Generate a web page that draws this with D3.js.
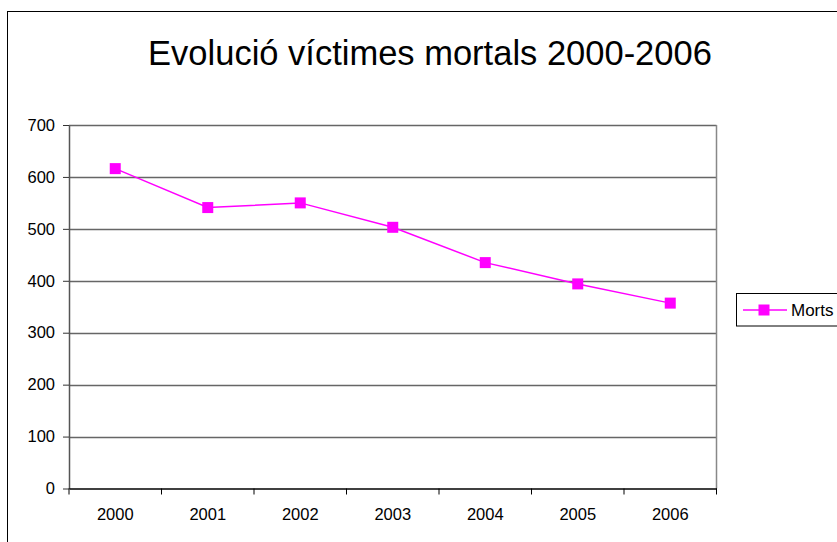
<!DOCTYPE html>
<html>
<head>
<meta charset="utf-8">
<script src="https://cdn.jsdelivr.net/npm/d3@7"></script>
<style>
html,body{margin:0;padding:0;background:#fff;}
svg{display:block;}
text{font-family:"Liberation Sans",Arial,sans-serif;fill:#000;}
</style>
</head>
<body>
<svg id="chart" width="837" height="542"></svg>
<script>
const title = "Evolució víctimes mortals 2000-2006";
const years = ["2000","2001","2002","2003","2004","2005","2006"];
const morts = [616, 541, 550, 503, 435, 394, 357];
const yTicks = [0,100,200,300,400,500,600,700];
const seriesName = "Morts";

const svg = d3.select("#chart");
const W = 837, H = 542;
const plot = {left:69, top:125, right:716.5, bottom:488.5};

// outer chart border
svg.append("rect").attr("x",7.5).attr("y",11.5).attr("width",W+20).attr("height",H+20)
  .attr("fill","#fff").attr("stroke","#000").attr("stroke-width",1);

svg.append("text").attr("x",430).attr("y",65).attr("text-anchor","middle")
  .attr("font-size",34.5).text(title);

const x = d3.scaleBand().domain(years).range([plot.left, plot.right]).padding(0);
const y = d3.scaleLinear().domain([0,700]).range([plot.bottom, plot.top]);

// gridlines
svg.append("g").selectAll("line").data(yTicks.filter(d=>d>0)).join("line")
  .attr("x1",plot.left).attr("x2",plot.right)
  .attr("y1",d=>Math.round(y(d))+0.5).attr("y2",d=>Math.round(y(d))+0.5)
  .attr("stroke","#666").attr("stroke-width",1.3);

// right border of plot area
svg.append("line").attr("x1",plot.right).attr("x2",plot.right)
  .attr("y1",plot.top).attr("y2",plot.bottom).attr("stroke","#888").attr("stroke-width",1.5);

// y axis
const yAxis = d3.axisLeft(y).tickValues(yTicks).tickSize(6).tickSizeOuter(0).tickPadding(8);
const gy = svg.append("g").attr("transform",`translate(${plot.left},0)`).call(yAxis);
gy.select(".domain").attr("stroke","#555").attr("stroke-width",1.5);
gy.selectAll(".tick line").attr("stroke","#333");
gy.selectAll(".tick text").attr("font-size",16.5).attr("font-family","Liberation Sans, Arial, sans-serif").attr("fill","#000");

// x axis
const xAxis = d3.axisBottom(x).tickSize(0).tickSizeOuter(0).tickPadding(20);
const gx = svg.append("g").attr("transform",`translate(0,${plot.bottom})`).call(xAxis);
gx.select(".domain").attr("stroke","#000").attr("stroke-width",1.3);
gx.selectAll(".tick text").attr("font-size",16.5).attr("font-family","Liberation Sans, Arial, sans-serif").attr("fill","#000");
// category boundary ticks
const bounds = years.map(d=>x(d)).concat([x(years[years.length-1])+x.bandwidth()]);
gx.append("g").selectAll("line").data(bounds).join("line")
  .attr("x1",d=>d).attr("x2",d=>d).attr("y1",0).attr("y2",6)
  .attr("stroke","#000").attr("stroke-width",1);

// series line
const line = d3.line().x((d,i)=>x(years[i])+x.bandwidth()/2).y(d=>y(d));
svg.append("path").datum(morts).attr("d",line).attr("fill","none")
  .attr("stroke","#ff00ff").attr("stroke-width",1.5);
const ms = 11;
svg.append("g").selectAll("rect").data(morts).join("rect")
  .attr("x",(d,i)=>x(years[i])+x.bandwidth()/2-ms/2)
  .attr("y",d=>y(d)-ms/2).attr("width",ms).attr("height",ms)
  .attr("fill","#ff00ff");

// legend
const lg = svg.append("g");
lg.append("rect").attr("x",736.5).attr("y",293.5).attr("width",120).attr("height",32.5)
  .attr("fill","#fff").attr("stroke","#000").attr("stroke-width",1);
lg.append("line").attr("x1",743).attr("x2",787).attr("y1",310).attr("y2",310)
  .attr("stroke","#ff00ff").attr("stroke-width",1.5);
lg.append("rect").attr("x",764-ms/2).attr("y",310-ms/2).attr("width",ms).attr("height",ms).attr("fill","#ff00ff");
lg.append("text").attr("x",791).attr("y",316).attr("font-size",17).text(seriesName);
</script>
</body>
</html>
